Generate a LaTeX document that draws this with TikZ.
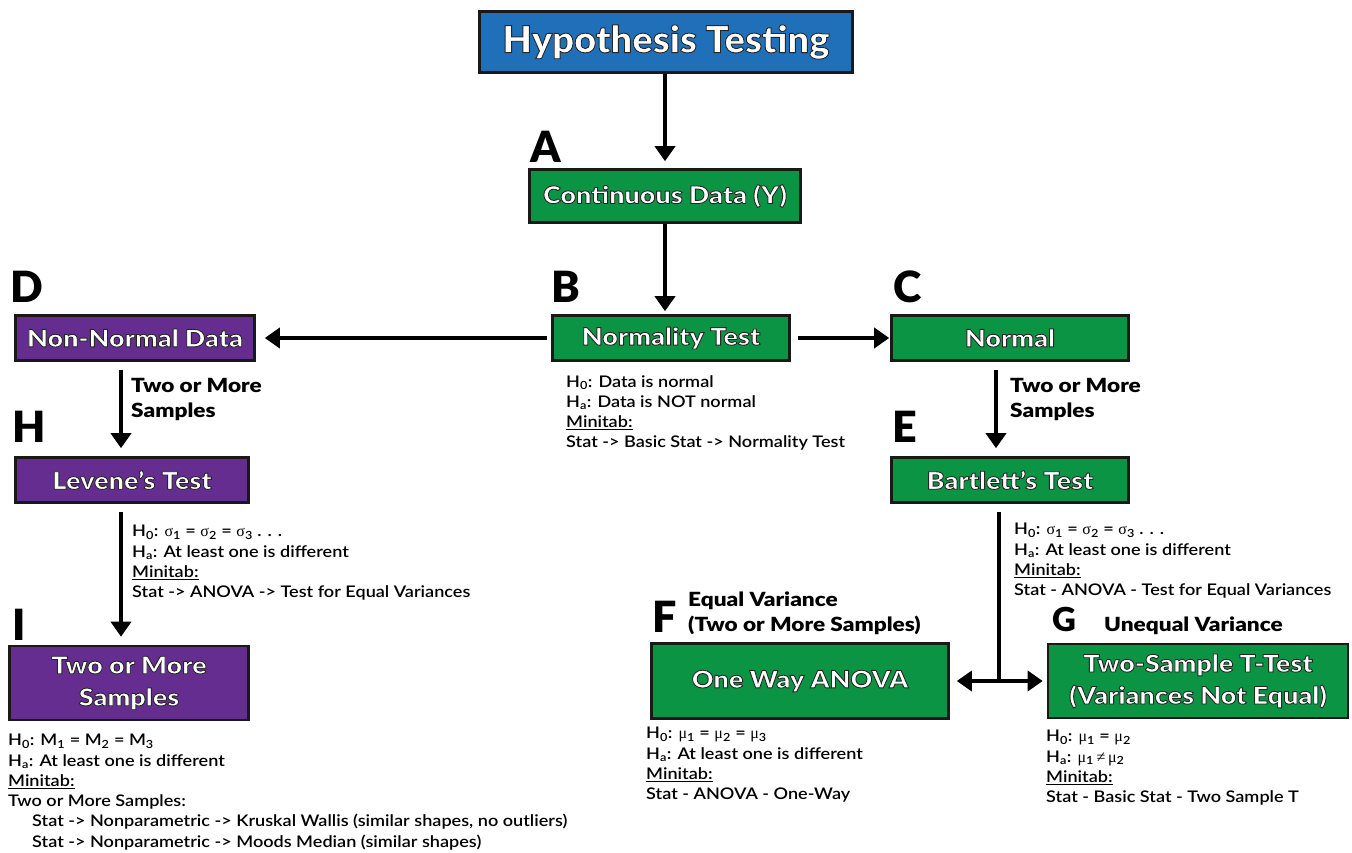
\documentclass[tikz,border=0pt]{standalone}
\usepackage{fontspec}
\setmainfont{Lato}
\newfontfamily\heavy{Lato Black}
\newfontfamily\heavyw{Lato Black}[FakeStretch=1.16]
\newfontfamily\semi{Lato Semibold}[FakeStretch=1.13]
\newfontfamily\boxf{Lato Black}[FakeStretch=1.12]
\newfontfamily\titlef{Lato Black}[FakeStretch=1.03]
\newfontfamily\grk{Liberation Serif}
\usetikzlibrary{arrows.meta,calc}
\definecolor{hblue}{HTML}{1F70B8}
\definecolor{hgreen}{HTML}{0B9444}
\definecolor{hpurple}{HTML}{662D91}
\newcommand\outlined[1]{\special{pdf:literal direct 0.15 0.15 0.15 RG 2 Tr 0.9 w}#1\special{pdf:literal direct 0 Tr}}
\newcommand\sg[1]{{\grk σ}\textsubscript{#1}}
\newcommand\mug[1]{{\grk μ}\textsubscript{#1}}
\tikzset{
  box/.style={draw=black!90, line width=2.6pt, text=white, align=center, inner sep=0pt,
    font=\boxf\fontsize{24}{32}\selectfont},
  gbox/.style={box, fill=hgreen},
  pbox/.style={box, fill=hpurple},
  arr/.style={line width=3.6pt, -{Triangle[width=20pt,length=15pt]}},
  darr/.style={line width=3.6pt, {Triangle[width=20pt,length=15pt]}-{Triangle[width=20pt,length=15pt]}},
  letter/.style={font=\heavy\fontsize{43}{43}\selectfont, anchor=base west, inner sep=0pt},
  note/.style={font=\semi\fontsize{16}{20.3}\selectfont, align=left, anchor=north west, inner sep=0pt},
  lab/.style={font=\heavyw\fontsize{19.5}{25}\selectfont, align=left, anchor=north west, inner sep=0pt},
}
\begin{document}
\begin{tikzpicture}[x=1pt,y=-1pt]
\useasboundingbox (0,0) rectangle (1352,852);

% boxes
\node[box, fill=hblue, minimum width=373pt, minimum height=61pt, font=\titlef\fontsize{37}{40}\selectfont] (title) at (666,42) {\outlined{Hypothesis Testing}};
\node[gbox, minimum width=271pt, minimum height=53pt] (cont) at (665,196) {\outlined{Continuous Data (Y)}};
\node[gbox, minimum width=237pt, minimum height=45pt] (nt) at (671,338) {\outlined{Normality Test}};
\node[pbox, minimum width=239pt, minimum height=45pt] (nn) at (135,338) {\outlined{Non-Normal Data}};
\node[gbox, minimum width=237pt, minimum height=45pt] (nrm) at (1010,338) {\outlined{Normal}};
\node[pbox, minimum width=233pt, minimum height=45pt] (lev) at (132,480) {\outlined{Levene’s Test}};
\node[gbox, minimum width=237pt, minimum height=45pt] (bart) at (1010,480) {\outlined{Bartlett’s Test}};
\node[pbox, minimum width=239pt, minimum height=74pt] (tm) at (129,683) {\outlined{Two or More\\Samples}};
\node[gbox, minimum width=297pt, minimum height=75pt] (anova) at (800,681) {\outlined{One Way ANOVA}};
\node[gbox, minimum width=300pt, minimum height=74pt] (ts) at (1198,681) {\outlined{Two-Sample T-Test\\(Variances Not Equal)}};

% letters
\node[letter] (lA) at (530,162) {A};
\node[letter] (lB) at (551,302) {B};
\node[letter] (lC) at (893,302) {C};
\node[letter] (lD) at (10,302) {D};
\node[letter] (lE) at (892,442) {E};
\node[letter] (lF) at (652,632) {F};
\node[letter, font=\heavy\fontsize{33}{33}\selectfont] (lG) at (1052,631) {G};
\node[letter] (lH) at (12,442) {H};
\node[letter] (lI) at (12,640) {I};

% arrows
\draw[arr, shorten >=7pt] (title.south -| cont.north) -- (cont.north);
\draw[arr, shorten >=3pt] (cont.south) -- (cont.south |- nt.north);
\draw[arr, shorten <=4pt, shorten >=9pt] (nt.west) -- (nn.east);
\draw[arr, shorten <=7pt, shorten >=1pt] (nt.east) -- (nrm.west);
\draw[arr, shorten <=8pt, shorten >=8pt] ([xshift=-14pt]nn.south) -- ([xshift=-14pt]nn.south |- lev.north);
\draw[arr, shorten <=8pt, shorten >=8pt] ([xshift=-11pt]lev.south) -- ([xshift=-11pt]lev.south |- tm.north);
\draw[arr, shorten <=8pt, shorten >=8pt] ([xshift=-14pt]nrm.south) -- ([xshift=-14pt]nrm.south |- bart.north);
\coordinate (j) at ([xshift=-11pt]bart.south |- anova.east);
\draw[line width=3.6pt, shorten <=8pt] ([xshift=-11pt]bart.south) -- (j);
\draw[darr, shorten <=7pt, shorten >=4pt] (anova.east) -- (ts.west);

% labels
\node[lab] (l1) at (131,378) {Two or More\\Samples};
\node[lab] (l2) at (1010,378) {Two or More\\Samples};
\node[lab] (l3) at (688,592) {Equal Variance\\(Two or More Samples)};
\node[lab, anchor=base west] (l4) at (1104,631) {Unequal Variance};

% notes
\node[note] (n1) at (566,375) {H\textsubscript{0}: Data is normal\\H\textsubscript{a}: Data is NOT normal\\\underline{Minitab:}\\Stat -> Basic Stat -> Normality Test};
\node[note] (n2) at (132,525) {H\textsubscript{0}: \sg{1} = \sg{2} = \sg{3} . . .\\H\textsubscript{a}: At least one is different\\\underline{Minitab:}\\Stat -> ANOVA -> Test for Equal Variances};
\node[note] (n3) at (1014,523) {H\textsubscript{0}: \sg{1} = \sg{2} = \sg{3} . . .\\H\textsubscript{a}: At least one is different\\\underline{Minitab:}\\Stat - ANOVA - Test for Equal Variances};
\node[note] (n4) at (8,734) {H\textsubscript{0}: M\textsubscript{1} = M\textsubscript{2} = M\textsubscript{3}\\H\textsubscript{a}: At least one is different\\\underline{Minitab:}\\Two or More Samples:\\\hspace*{24pt}Stat -> Nonparametric -> Kruskal Wallis (similar shapes, no outliers)\\\hspace*{24pt}Stat -> Nonparametric -> Moods Median (similar shapes)};
\node[note] (n5) at (646,727) {H\textsubscript{0}: \mug{1} = \mug{2} = \mug{3}\\H\textsubscript{a}: At least one is different\\\underline{Minitab:}\\Stat - ANOVA - One-Way};
\node[note] (n6) at (1046,730) {H\textsubscript{0}: \mug{1} = \mug{2}\\H\textsubscript{a}: \mug{1}{\grk\,≠\,}\mug{2}\\\underline{Minitab:}\\Stat - Basic Stat - Two Sample T};
\end{tikzpicture}
\end{document}
